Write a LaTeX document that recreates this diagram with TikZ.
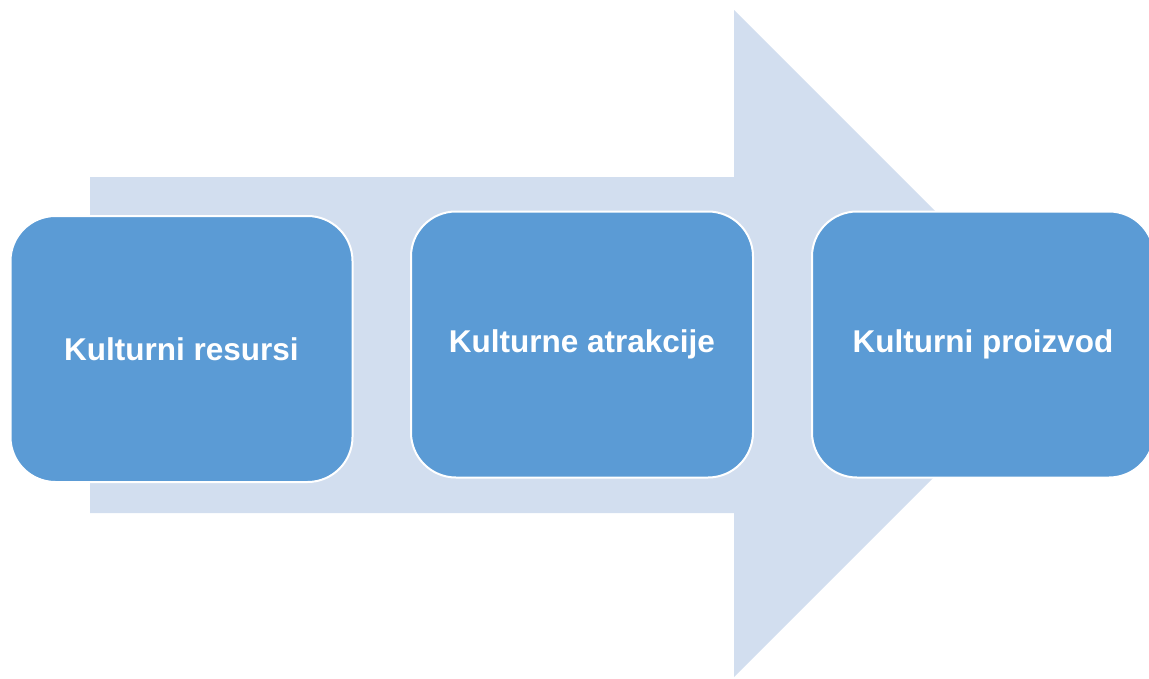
\documentclass[tikz,border=0pt]{standalone}
\usepackage{fontspec}
\setmainfont{Liberation Sans}
\definecolor{arrowfill}{HTML}{D2DEEF}
\definecolor{boxfill}{HTML}{5B9BD5}

\begin{document}
\begin{tikzpicture}[x=1pt,y=-1pt,
  stage/.style={draw=white,line width=2pt,fill=boxfill,rounded corners=45pt,
    minimum width=342pt,minimum height=266pt,inner sep=0pt,text=white,
    font=\fontsize{31.5}{36}\selectfont\bfseries}]

\clip (0,0) rectangle (1149,678);

% big arrow behind the boxes
\fill[arrowfill] (90,177)--(734,177)--(734,10)--(1067.5,343.5)--(734,677)--(734,513)--(90,513)--cycle;

\node[stage] (res) at (181.5,349) {Kulturni resursi};
\node[stage] (atr) at (582,344.5) {Kulturne atrakcije};
\node[stage] (pro) at (983,344.5) {Kulturni proizvod};

\end{tikzpicture}
\end{document}
